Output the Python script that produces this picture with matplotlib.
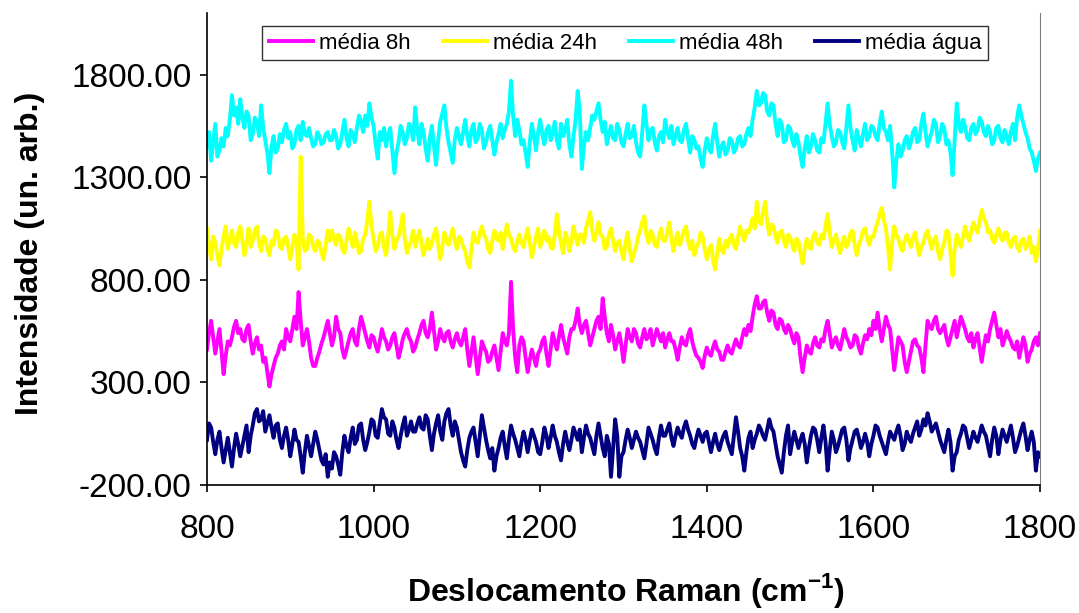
import numpy as np
import matplotlib
matplotlib.use("Agg")
import matplotlib.pyplot as plt

plt.rcParams['font.family'] = ['Liberation Sans', 'DejaVu Sans']
plt.rcParams['mathtext.fontset'] = 'custom'
plt.rcParams['mathtext.bf'] = 'Liberation Sans:bold'
plt.rcParams['mathtext.rm'] = 'Liberation Sans'

# Raman shift grid (cm^-1), one value every 2.5 cm^-1
raman_shift = np.arange(800, 1800.1, 2.5)

media_48h = [
    1450, 1520, 1380, 1470, 1560, 1400, 1430, 1490, 1450, 1540, 1500, 1580, 1700, 1600, 1640, 1560, 1680, 1590, 1540, 1620,
    1600, 1480, 1510, 1590, 1570, 1500, 1650, 1540, 1480, 1420, 1320, 1450, 1500, 1420, 1440, 1510, 1470, 1530, 1560, 1490,
    1520, 1440, 1460, 1530, 1550, 1480, 1570, 1510, 1500, 1540, 1490, 1450, 1460, 1520, 1500, 1460, 1470, 1510, 1520, 1480,
    1480, 1530, 1500, 1440, 1460, 1520, 1580, 1490, 1450, 1530, 1510, 1470, 1540, 1600, 1570, 1520, 1600, 1550, 1660, 1590,
    1550, 1460, 1390, 1520, 1480, 1540, 1450, 1510, 1540, 1430, 1320, 1420, 1470, 1550, 1520, 1460, 1490, 1560, 1540, 1480,
    1640, 1530, 1460, 1560, 1520, 1440, 1380, 1490, 1550, 1450, 1360, 1480, 1570, 1610, 1650, 1540, 1470, 1420, 1370, 1480,
    1540, 1500, 1460, 1520, 1580, 1500, 1450, 1530, 1560, 1470, 1490, 1560, 1530, 1440, 1470, 1520, 1550, 1480, 1410, 1470,
    1510, 1560, 1490, 1530, 1560, 1620, 1770, 1600, 1500, 1580, 1530, 1460, 1480, 1420, 1350, 1470, 1560, 1500, 1430, 1520,
    1580, 1510, 1460, 1530, 1550, 1480, 1510, 1570, 1480, 1440, 1560, 1500, 1530, 1580, 1460, 1400, 1500, 1580, 1720, 1620,
    1340, 1450, 1520, 1480, 1540, 1600, 1580, 1620, 1660, 1580, 1520, 1570, 1460, 1510, 1550, 1490, 1480, 1560, 1530, 1470,
    1450, 1510, 1560, 1490, 1500, 1550, 1470, 1420, 1400, 1520, 1650, 1560, 1480, 1530, 1540, 1470, 1430, 1500, 1520, 1470,
    1580, 1520, 1490, 1550, 1460, 1500, 1540, 1480, 1470, 1530, 1560, 1490, 1420, 1500, 1480, 1440, 1450, 1390, 1350, 1430,
    1490, 1440, 1420, 1500, 1560, 1470, 1400, 1450, 1470, 1410, 1430, 1490, 1480, 1420, 1440, 1490, 1500, 1450, 1460, 1510,
    1540, 1500, 1580, 1640, 1720, 1650, 1660, 1710, 1700, 1620, 1600, 1660, 1650, 1560, 1500, 1580, 1560, 1470, 1480, 1550,
    1540, 1480, 1450, 1510, 1470, 1400, 1350, 1440, 1500, 1420, 1450, 1510, 1480, 1430, 1420, 1490, 1470, 1560, 1660, 1560,
    1500, 1450, 1470, 1530, 1520, 1470, 1440, 1540, 1650, 1540, 1480, 1430, 1530, 1490, 1450, 1510, 1560, 1480, 1500, 1550,
    1540, 1500, 1480, 1560, 1620, 1540, 1520, 1480, 1550, 1420, 1250, 1380, 1460, 1400, 1430, 1480, 1500, 1440, 1470, 1520,
    1540, 1470, 1480, 1560, 1610, 1520, 1450, 1490, 1520, 1580, 1560, 1470, 1500, 1560, 1540, 1460, 1480, 1420, 1310, 1480,
    1660, 1560, 1520, 1580, 1550, 1490, 1480, 1540, 1560, 1510, 1530, 1590, 1570, 1520, 1500, 1550, 1520, 1460, 1480, 1540,
    1550, 1490, 1470, 1530, 1500, 1460, 1520, 1560, 1480, 1590, 1650, 1600, 1560, 1520, 1490, 1440, 1420, 1380, 1330, 1390,
    1420,
]

media_24h = [
    1050, 960, 900, 1010, 980, 920, 870, 950, 1010, 1060, 950, 1000, 1040, 980, 960, 1030, 1060, 990, 920, 980,
    1050, 960, 990, 1040, 1060, 980, 940, 1010, 1000, 950, 920, 990, 970, 1040, 1030, 960, 950, 1000, 1010, 960,
    900, 960, 1020, 980, 850, 1400, 1000, 940, 950, 1020, 1010, 960, 940, 990, 980, 930, 900, 970, 1040, 990,
    1040, 1000, 970, 1020, 1010, 950, 930, 990, 1050, 1000, 960, 1030, 990, 930, 940, 1000, 1020, 1090, 1180, 1060,
    1000, 940, 960, 1020, 1030, 960, 920, 1010, 1130, 1020, 950, 990, 1010, 1060, 1120, 1000, 930, 960, 990, 1040,
    960, 1000, 1040, 980, 920, 960, 1000, 950, 980, 1020, 1050, 970, 900, 960, 1030, 990, 970, 1010, 1050, 990,
    950, 1010, 1000, 960, 940, 890, 860, 950, 1030, 990, 980, 1030, 1060, 1020, 1000, 950, 930, 990, 1040, 1000,
    990, 1030, 950, 1010, 1070, 1020, 1000, 960, 940, 990, 1020, 980, 960, 1010, 1050, 980, 910, 960, 1010, 1050,
    960, 1000, 1040, 990, 1010, 960, 950, 1020, 1120, 1040, 980, 930, 1030, 1000, 940, 990, 1060, 1010, 970, 1020,
    1020, 980, 1050, 1090, 1130, 1040, 990, 1030, 1080, 1020, 1010, 950, 960, 1020, 1050, 990, 940, 980, 990, 940,
    900, 980, 1030, 950, 890, 930, 960, 1010, 1040, 1080, 1110, 1020, 980, 1040, 1020, 970, 960, 1010, 1050, 990,
    990, 1030, 1080, 1000, 940, 990, 1030, 970, 1000, 1040, 1060, 990, 950, 990, 920, 960, 980, 1030, 1010, 950,
    900, 940, 970, 900, 850, 930, 1000, 950, 930, 990, 960, 1000, 1020, 970, 950, 1010, 1060, 1020, 990, 1040,
    1030, 1060, 1100, 1050, 1180, 1090, 1070, 1130, 1180, 1080, 1020, 1070, 1060, 1010, 980, 1030, 1040, 990, 960, 1020,
    1010, 970, 940, 1000, 990, 930, 880, 950, 1000, 960, 950, 1010, 1030, 980, 970, 1020, 1000, 1060, 1120, 1030,
    960, 990, 1020, 970, 930, 980, 1010, 960, 980, 1030, 1040, 970, 920, 970, 1000, 1040, 1050, 1000, 970, 1010,
    1010, 1050, 1080, 1120, 1150, 1090, 1050, 960, 850, 980, 1060, 1020, 1000, 960, 940, 990, 1020, 990, 960, 1010,
    1030, 970, 920, 960, 980, 1020, 1040, 990, 950, 990, 1010, 940, 900, 950, 980, 1040, 1030, 930, 820, 950,
    1020, 990, 960, 1010, 1060, 1020, 990, 1040, 1080, 1050, 1030, 1090, 1140, 1100, 1080, 1030, 1040, 1000, 980, 1020,
    1050, 1010, 990, 1030, 1030, 980, 960, 1000, 1010, 960, 940, 990, 1000, 950, 970, 1010, 930, 960, 890, 950,
    1040,
]

media_8h = [
    460, 540, 600, 520, 440, 500, 560, 450, 340, 430, 500, 480, 520, 570, 600, 540, 560, 510, 500, 560,
    580, 500, 440, 490, 520, 460, 480, 400, 420, 350, 280, 340, 380, 420, 440, 480, 500, 460, 560, 520,
    500, 560, 620, 560, 740, 600, 480, 520, 560, 500, 420, 380, 380, 420, 450, 490, 520, 560, 600, 540,
    480, 520, 620, 560, 540, 460, 420, 460, 500, 540, 560, 500, 480, 560, 620, 580, 540, 500, 470, 530,
    520, 480, 450, 500, 560, 520, 500, 460, 480, 520, 540, 480, 420, 460, 510, 540, 560, 520, 500, 450,
    470, 510, 540, 580, 600, 540, 520, 560, 640, 550, 460, 500, 560, 520, 500, 540, 550, 500, 470, 510,
    540, 500, 480, 520, 560, 460, 380, 450, 520, 430, 340, 420, 500, 470, 450, 400, 410, 450, 480, 420,
    360, 450, 540, 500, 480, 540, 790, 560, 420, 350, 480, 520, 500, 420, 350, 410, 460, 420, 380, 440,
    460, 500, 520, 440, 380, 460, 540, 500, 460, 520, 580, 520, 480, 440, 520, 560, 560, 600, 660, 580,
    540, 580, 600, 540, 480, 520, 560, 600, 620, 560, 710, 620, 540, 500, 580, 530, 460, 500, 540, 480,
    400, 480, 560, 520, 500, 560, 540, 490, 470, 520, 560, 510, 520, 560, 480, 520, 560, 530, 500, 540,
    470, 510, 540, 500, 500, 460, 410, 470, 520, 490, 480, 530, 560, 500, 460, 430, 420, 400, 370, 430,
    470, 440, 430, 470, 500, 460, 450, 410, 410, 450, 480, 450, 440, 480, 510, 480, 470, 520, 560, 530,
    580, 550, 620, 680, 720, 660, 660, 690, 700, 640, 600, 650, 640, 580, 560, 610, 600, 560, 540, 580,
    560, 520, 490, 540, 520, 420, 350, 420, 480, 450, 440, 490, 520, 480, 470, 510, 500, 560, 600, 540,
    470, 500, 520, 480, 460, 510, 560, 520, 500, 470, 480, 530, 520, 470, 440, 490, 530, 510, 560, 530,
    600, 560, 640, 560, 500, 560, 620, 580, 560, 460, 360, 440, 520, 500, 480, 400, 350, 400, 450, 500,
    510, 480, 470, 420, 350, 480, 600, 570, 560, 600, 620, 560, 540, 560, 580, 520, 480, 520, 560, 600,
    520, 570, 620, 590, 560, 520, 500, 540, 470, 510, 540, 470, 400, 470, 530, 500, 560, 600, 640, 580,
    520, 560, 480, 510, 550, 520, 500, 470, 460, 500, 420, 470, 520, 480, 400, 440, 460, 500, 520, 480,
    540,
]

media_agua = [
    20, 100, 80, 10, -50, 20, 60, -20, -90, -30, 30, -40, -110, -20, 50, 0, -60, -10, 40, 90,
    -40, 40, 90, 150, 170, 110, 120, 160, 60, 100, 140, 80, 30, 90, 100, 20, -20, 40, 80, 20,
    -60, 0, 70, 20, 10, -60, -140, -40, 40, -10, -60, 0, 60, 20, -30, -80, -100, -50, -160, -90,
    -120, -40, -60, -100, -150, -40, 40, -10, -40, 30, 80, 0, 20, 90, 100, 20, -30, 10, 60, 120,
    110, 40, 30, 100, 170, 130, 120, 50, 40, 110, 80, 20, -20, 40, 90, 130, 40, 70, 110, 60,
    60, 100, 130, 80, 70, 140, 120, 40, -30, 50, 100, 140, 60, 20, 110, 150, 170, 90, 40, 110,
    80, 20, -40, -80, -110, -30, 30, 60, 80, 10, -60, 40, 140, 80, 20, -30, -70, -20, -130, -60,
    -20, 30, 60, -10, -70, 20, 90, 50, 20, -20, -60, 10, 60, 20, -40, 20, 70, 40, 10, -40,
    -50, 10, 80, 40, -20, 30, 90, 40, 10, -40, -80, 0, 60, 10, -30, 20, 80, 50, 20, 70,
    -40, 30, 90, 50, 30, -10, -50, 40, 100, 40, -20, -60, 40, 0, -160, -20, 120, 40, -160, -60,
    -40, 20, 70, 30, -20, 20, 60, 30, 10, -30, -70, 0, 80, 50, 20, -20, -50, 30, 90, 40,
    40, 70, 100, 30, -10, 40, 80, 50, 30, 80, 110, 70, 40, 0, -20, 30, 70, 40, 10, 50,
    60, 10, -40, 10, 50, 0, -30, 10, 40, 60, 10, -20, -50, 40, 130, 60, -20, -60, -130, -40,
    30, 60, -20, 20, 50, 90, 70, 40, 20, 70, 120, 80, 60, 0, -60, -100, -140, -40, 40, 90,
    -50, 10, 60, 20, -20, 20, 50, 0, -90, -20, 40, 80, 70, 20, -40, 30, 90, 10, -130, -30,
    60, 20, -40, -10, 30, 70, 80, 20, -80, -20, 20, 60, 70, 30, -20, 10, 50, 10, -60, 0,
    40, 90, 80, 40, 10, -20, -50, 10, 60, 40, 20, 60, 90, 40, -30, 0, 60, 30, 10, 50,
    80, 110, 40, 70, 120, 90, 150, 110, 60, 80, 100, 60, 20, -10, -40, 20, 70, 10, -130, -60,
    -40, 20, 50, 90, 80, 30, -20, 20, 60, 30, 10, 50, 90, 60, 40, -10, -60, 20, 80, 40,
    -50, 20, 70, 40, 10, 50, 90, 30, -40, -10, 30, 70, 100, 40, -30, 20, 60, 10, -130, -40,
    -60,
]

series = [
    ("média 8h", media_8h, "#FF00FF"),
    ("média 24h", media_24h, "#FFFF00"),
    ("média 48h", media_48h, "#00FFFF"),
    ("média água", media_agua, "#000080"),
]

x_ticks = [800, 1000, 1200, 1400, 1600, 1800]
y_ticks = [-200, 300, 800, 1300, 1800]

fig = plt.figure(figsize=(10.79, 6.13), dpi=100)
ax = fig.add_axes([0.1918, 0.2088, 0.7721, 0.770])

for label, values, color in series:
    ax.plot(raman_shift, values, color=color, lw=2.8, label=label,
            solid_joinstyle="round")

ax.set_xlim(800, 1800)
ax.set_ylim(-200, 2100)
ax.set_xticks(x_ticks)
ax.set_yticks(y_ticks)
ax.set_yticklabels([f"{v:.2f}" for v in y_ticks])
ax.tick_params(axis="both", direction="out", length=5, width=1.2,
               labelsize=24)
ax.tick_params(axis="y", pad=6)
ax.tick_params(axis="x", pad=16)

ax.spines["top"].set_visible(False)
ax.spines["right"].set_color("#808080")
ax.spines["left"].set_linewidth(1.2)
ax.spines["bottom"].set_linewidth(1.2)

ax.set_xlabel("Deslocamento Raman (cm$^{\\mathbf{-1}}$)", fontsize=23,
              fontweight="bold")
ax.xaxis.set_label_coords(0.503, -0.183)
ax.set_ylabel("Intensidade (un. arb.)", fontsize=23, fontweight="bold")
ax.yaxis.set_label_coords(-0.1945, 0.4915)

leg = ax.legend(loc="center", bbox_to_anchor=(0.502, 0.936), ncol=4,
                fontsize=16, frameon=True, fancybox=False,
                handlelength=2.0, columnspacing=1.45, handletextpad=0.25,
                borderpad=0.3)
leg.get_frame().set_edgecolor("black")
leg.get_frame().set_linewidth(1.0)

fig.savefig("out.png", dpi=100)
